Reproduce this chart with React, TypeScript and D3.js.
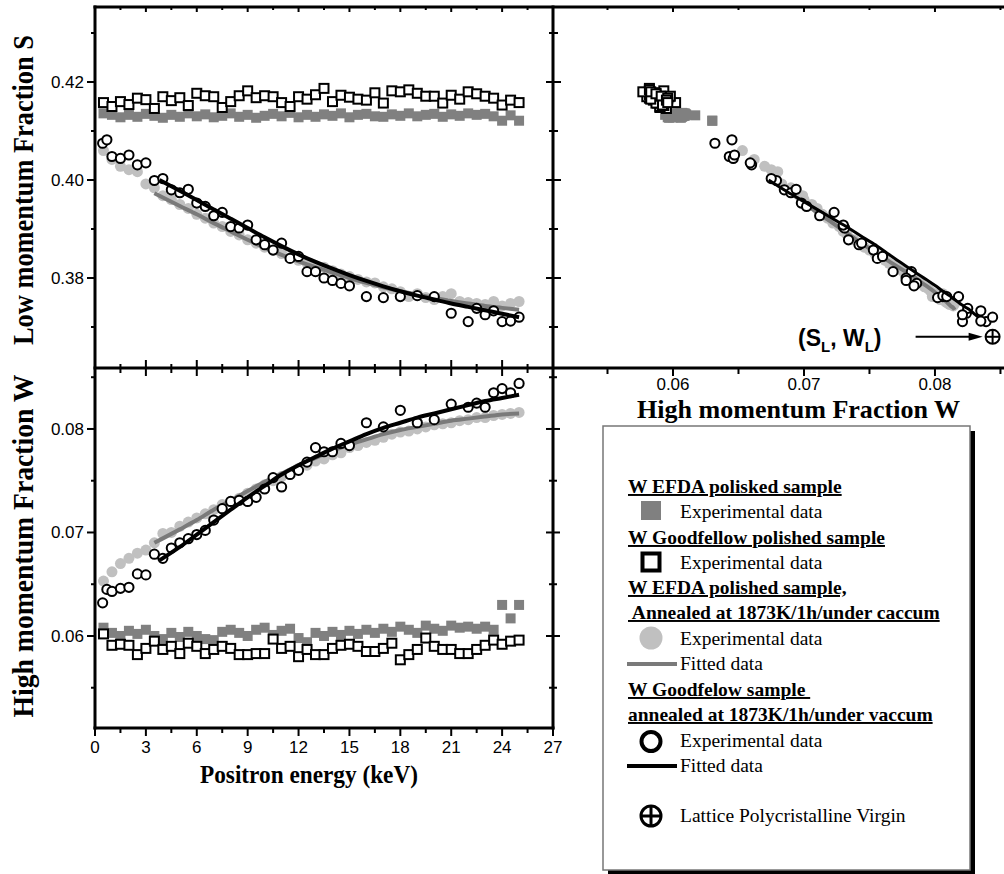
import React from "react";
import * as d3 from "d3";

// ---------- data ----------
const E_GRID = [0.5, 1.0, 1.5, 2.0, 2.5, 3.0, 3.5, 4.0, 4.5, 5.0, 5.5, 6.0, 6.5, 7.0, 7.5, 8.0, 8.5, 9.0, 9.5, 10.0, 10.5, 11.0, 11.5, 12.0, 12.5, 13.0, 13.5, 14.0, 14.5, 15.0, 15.5, 16.0, 16.5, 17.0, 17.5, 18.0, 18.5, 19.0, 19.5, 20.0, 20.5, 21.0, 21.5, 22.0, 22.5, 23.0, 23.5, 24.0, 24.5, 25.0];

// W EFDA polished sample (gray filled squares)
const EFDA_POL_S = [0.4136, 0.4133, 0.4128, 0.4133, 0.4129, 0.4135, 0.4131, 0.4127, 0.4133, 0.4129, 0.4136, 0.4130, 0.4134, 0.4128, 0.4131, 0.4136, 0.4129, 0.4133, 0.4127, 0.4131, 0.4135, 0.4130, 0.4137, 0.4128, 0.4133, 0.4129, 0.4134, 0.4131, 0.4136, 0.4128, 0.4133, 0.4135, 0.4130, 0.4129, 0.4134, 0.4131, 0.4136, 0.4130, 0.4133, 0.4135, 0.4129, 0.4134, 0.4131, 0.4136, 0.4133, 0.4135, 0.4130, 0.4121, 0.4132, 0.4121];
const EFDA_POL_W = [0.0608, 0.0603, 0.0600, 0.0605, 0.0602, 0.0606, 0.0600, 0.0597, 0.0603, 0.0599, 0.0604, 0.0600, 0.0597, 0.0596, 0.0604, 0.0606, 0.0603, 0.0600, 0.0606, 0.0608, 0.0601, 0.0605, 0.0607, 0.0598, 0.0594, 0.0603, 0.0600, 0.0604, 0.0601, 0.0605, 0.0602, 0.0606, 0.0603, 0.0607, 0.0604, 0.0609, 0.0606, 0.0603, 0.0610, 0.0607, 0.0605, 0.0610, 0.0608, 0.0609, 0.0607, 0.0609, 0.0606, 0.0630, 0.0617, 0.0630];

// W Goodfellow polished sample (open squares)
const GF_POL_S = [0.4158, 0.4150, 0.4160, 0.4154, 0.4167, 0.4164, 0.4146, 0.4170, 0.4162, 0.4168, 0.4152, 0.4177, 0.4172, 0.4170, 0.4148, 0.4160, 0.4172, 0.4182, 0.4168, 0.4172, 0.4170, 0.4158, 0.4150, 0.4170, 0.4165, 0.4174, 0.4187, 0.4160, 0.4173, 0.4169, 0.4165, 0.4163, 0.4178, 0.4157, 0.4182, 0.4180, 0.4184, 0.4177, 0.4171, 0.4171, 0.4157, 0.4173, 0.4165, 0.4180, 0.4176, 0.4171, 0.4167, 0.4153, 0.4163, 0.4158];
const GF_POL_W = [0.0602, 0.0591, 0.0592, 0.0591, 0.0582, 0.0588, 0.0595, 0.0587, 0.0590, 0.0583, 0.0593, 0.0590, 0.0583, 0.0587, 0.0590, 0.0588, 0.0582, 0.0582, 0.0583, 0.0583, 0.0597, 0.0588, 0.0590, 0.0580, 0.0587, 0.0582, 0.0582, 0.0588, 0.0591, 0.0592, 0.0590, 0.0585, 0.0585, 0.0588, 0.0593, 0.0577, 0.0582, 0.0587, 0.0598, 0.0590, 0.0587, 0.0587, 0.0583, 0.0583, 0.0587, 0.0591, 0.0596, 0.0592, 0.0595, 0.0596];

// W EFDA polished sample, annealed (light gray circles)
const EFDA_ANN_S = [0.4060, 0.4042, 0.4028, 0.4021, 0.4017, 0.3992, 0.3984, 0.3968, 0.3960, 0.3950, 0.3942, 0.3930, 0.3922, 0.3912, 0.3905, 0.3895, 0.3888, 0.3878, 0.3871, 0.3863, 0.3857, 0.3850, 0.3842, 0.3836, 0.3830, 0.3825, 0.3822, 0.3815, 0.3808, 0.3803, 0.3797, 0.3792, 0.3790, 0.3782, 0.3778, 0.3772, 0.3762, 0.3768, 0.3760, 0.3756, 0.3762, 0.3768, 0.3752, 0.3750, 0.3748, 0.3746, 0.3752, 0.3743, 0.3748, 0.3752];
const EFDA_ANN_W = [0.0653, 0.0662, 0.0670, 0.0675, 0.0680, 0.0683, 0.0690, 0.0699, 0.0700, 0.0706, 0.0710, 0.0714, 0.0718, 0.0722, 0.0727, 0.0730, 0.0733, 0.0738, 0.0742, 0.0746, 0.0750, 0.0754, 0.0757, 0.0762, 0.0765, 0.0769, 0.0771, 0.0775, 0.0777, 0.0782, 0.0784, 0.0787, 0.0789, 0.0792, 0.0795, 0.0797, 0.0798, 0.0800, 0.0802, 0.0804, 0.0805, 0.0806, 0.0808, 0.0809, 0.0811, 0.0811, 0.0813, 0.0814, 0.0815, 0.0816];

// W Goodfellow sample, annealed (open circles)
const GF_ANN_E = [0.45, 0.7, 1.0, 1.5, 2.0, 2.5, 3.0, 3.5, 4.0, 4.5, 5.0, 5.5, 6.0, 6.5, 7.0, 7.5, 8.0, 8.5, 9.0, 9.5, 10.0, 10.5, 11.0, 11.5, 12.0, 12.5, 13.0, 13.5, 14.0, 14.5, 15.0, 16.0, 17.0, 18.0, 19.0, 20.0, 21.0, 22.0, 22.5, 23.0, 23.5, 24.0, 24.5, 25.0];
const GF_ANN_S = [0.4075, 0.4082, 0.4048, 0.4044, 0.4051, 0.4031, 0.4035, 0.3999, 0.4003, 0.3980, 0.3974, 0.3981, 0.3953, 0.3946, 0.3927, 0.3934, 0.3905, 0.3902, 0.3908, 0.3878, 0.3868, 0.3857, 0.3871, 0.3840, 0.3844, 0.3813, 0.3813, 0.3800, 0.3795, 0.3789, 0.3784, 0.3762, 0.3760, 0.3762, 0.3764, 0.3762, 0.3728, 0.3711, 0.3738, 0.3725, 0.3733, 0.3711, 0.3712, 0.3720];
const GF_ANN_W = [0.0632, 0.0645, 0.0643, 0.0646, 0.0647, 0.0660, 0.0659, 0.0679, 0.0675, 0.0685, 0.0690, 0.0694, 0.0698, 0.0702, 0.0712, 0.0723, 0.0730, 0.0731, 0.0730, 0.0734, 0.0742, 0.0753, 0.0744, 0.0756, 0.0760, 0.0768, 0.0782, 0.0778, 0.0778, 0.0786, 0.0784, 0.0806, 0.0802, 0.0818, 0.0806, 0.0809, 0.0824, 0.0821, 0.0825, 0.0821, 0.0835, 0.0839, 0.0835, 0.0844];

// fitted curves
const FIT_GRAY_E = [3.5, 5, 6, 7, 8, 9, 10, 11, 12, 13, 14, 15, 16, 17, 18, 19, 20, 21, 22, 23, 24, 25];
const FIT_GRAY_S = [0.3973, 0.3947, 0.3930, 0.3912, 0.3895, 0.3878, 0.3862, 0.3847, 0.3834, 0.3822, 0.3811, 0.3800, 0.3790, 0.3781, 0.3773, 0.3766, 0.3759, 0.3753, 0.3748, 0.3743, 0.3739, 0.3735];
const FIT_GRAY_W = [0.0690, 0.0703, 0.0712, 0.0722, 0.0731, 0.0740, 0.0749, 0.0757, 0.0765, 0.0772, 0.0779, 0.0785, 0.0790, 0.0795, 0.0799, 0.0802, 0.0805, 0.0808, 0.0810, 0.0812, 0.0814, 0.0815];
const FIT_BLACK_E = [3.8, 5, 6, 7, 8, 9, 10, 11, 12, 13, 14, 15, 16, 17, 18, 19, 20, 21, 22, 23, 24, 25];
const FIT_BLACK_S = [0.4000, 0.3978, 0.3959, 0.3940, 0.3921, 0.3902, 0.3883, 0.3865, 0.3848, 0.3833, 0.3819, 0.3806, 0.3794, 0.3783, 0.3773, 0.3764, 0.3756, 0.3748, 0.3741, 0.3734, 0.3727, 0.3720];
const FIT_BLACK_W = [0.0673, 0.0686, 0.0698, 0.0710, 0.0722, 0.0734, 0.0745, 0.0756, 0.0765, 0.0773, 0.0781, 0.0788, 0.0795, 0.0801, 0.0806, 0.0811, 0.0815, 0.0819, 0.0823, 0.0827, 0.0830, 0.0833];

// lattice point (S_L, W_L)
const LATTICE_W = [0.0844];
const LATTICE_S = [0.3680];

// ticks
const E_MAJOR = [0, 3, 6, 9, 12, 15, 18, 21, 24, 27];
const E_MINOR = [1.5, 4.5, 7.5, 10.5, 13.5, 16.5, 19.5, 22.5, 25.5];
const S_MAJOR = [0.38, 0.40, 0.42];
const S_MINOR = [0.37, 0.39, 0.41, 0.43];
const W_MAJOR = [0.06, 0.07, 0.08];
const W_MINOR_LEFT = [0.055, 0.065, 0.075, 0.085];
const W_MINOR_RIGHT = [0.055, 0.065, 0.075, 0.085];

const SANS = "'Liberation Sans', Arial, sans-serif";
const SERIF = "'Liberation Serif', 'Times New Roman', serif";
const GRAY_SQ = "#808080";
const LIGHT = "#c0c0c0";
const FIT_GRAY = "#7a7a7a";

export default function App() {
  const xE = d3.scaleLinear().domain([0, 27]).range([95, 553]);
  const yS = d3.scaleLinear().domain([0.36163, 0.43531]).range([368, 7]);
  const yW = d3.scaleLinear().domain([0.05111, 0.08589]).range([728, 368]);
  const xW = d3.scaleLinear().domain([0.05084, 0.08527]).range([553, 1004]);

  const lineE = d3.line<[number, number]>().x((d) => d[0]).y((d) => d[1]).curve(d3.curveMonotoneX);
  const lineP = d3.line<[number, number]>().x((d) => d[0]).y((d) => d[1]).curve(d3.curveCatmullRom);

  const grayFitES = lineE(FIT_GRAY_E.map((e, i) => [xE(e), yS(FIT_GRAY_S[i])] as [number, number]));
  const blackFitES = lineE(FIT_BLACK_E.map((e, i) => [xE(e), yS(FIT_BLACK_S[i])] as [number, number]));
  const grayFitEW = lineE(FIT_GRAY_E.map((e, i) => [xE(e), yW(FIT_GRAY_W[i])] as [number, number]));
  const blackFitEW = lineE(FIT_BLACK_E.map((e, i) => [xE(e), yW(FIT_BLACK_W[i])] as [number, number]));
  const grayFitWS = lineP(FIT_GRAY_W.map((w, i) => [xW(w), yS(FIT_GRAY_S[i])] as [number, number]));
  const blackFitWS = lineP(FIT_BLACK_W.map((w, i) => [xW(w), yS(FIT_BLACK_S[i])] as [number, number]));

  const sq = 10;
  const osq = 9;
  const rL = 5.5;
  const rO = 4.6;

  const graySquares = (xs: number[], ys: number[]) =>
    xs.map((x, i) => <rect key={"g" + i} x={x - sq / 2} y={ys[i] - sq / 2} width={sq} height={sq} fill={GRAY_SQ} />);
  const openSquares = (xs: number[], ys: number[]) =>
    xs.map((x, i) => (
      <rect key={"o" + i} x={x - osq / 2} y={ys[i] - osq / 2} width={osq} height={osq} fill="#fff" stroke="#000" strokeWidth={2} />
    ));
  const lightCircles = (xs: number[], ys: number[]) =>
    xs.map((x, i) => <circle key={"l" + i} cx={x} cy={ys[i]} r={rL} fill={LIGHT} />);
  const openCircles = (xs: number[], ys: number[]) =>
    xs.map((x, i) => <circle key={"c" + i} cx={x} cy={ys[i]} r={rO} fill="#fff" stroke="#000" strokeWidth={2} />);

  const tickW = 2;

  // Legend geometry
  const LX = 603, LY = 426, LW = 367, LH = 444;
  const symX = 651;
  const txtX = 680;
  const hdrX = 628;
  const lfs = 19.5;

  return (
    <svg width={1004} height={874} style={{ position: "absolute", left: 0, top: 0, background: "#fff" }}>
      <rect x={0} y={0} width={1004} height={874} fill="#fff" />

      {/* ---------- top-left: S vs E ---------- */}
      <g>
        {graySquares(E_GRID.map(xE), EFDA_POL_S.map(yS))}
        {openSquares(E_GRID.map(xE), GF_POL_S.map(yS))}
        {lightCircles(E_GRID.map(xE), EFDA_ANN_S.map(yS))}
        <path d={grayFitES || ""} fill="none" stroke={FIT_GRAY} strokeWidth={4} />
        {openCircles(GF_ANN_E.map(xE), GF_ANN_S.map(yS))}
        <path d={blackFitES || ""} fill="none" stroke="#000" strokeWidth={4} />
      </g>

      {/* ---------- bottom-left: W vs E ---------- */}
      <g>
        {graySquares(E_GRID.map(xE), EFDA_POL_W.map(yW))}
        {openSquares(E_GRID.map(xE), GF_POL_W.map(yW))}
        {lightCircles(E_GRID.map(xE), EFDA_ANN_W.map(yW))}
        <path d={grayFitEW || ""} fill="none" stroke={FIT_GRAY} strokeWidth={4} />
        {openCircles(GF_ANN_E.map(xE), GF_ANN_W.map(yW))}
        <path d={blackFitEW || ""} fill="none" stroke="#000" strokeWidth={4} />
      </g>

      {/* ---------- top-right: S vs W ---------- */}
      <g>
        {graySquares(EFDA_POL_W.map(xW), EFDA_POL_S.map(yS))}
        {openSquares(GF_POL_W.map(xW), GF_POL_S.map(yS))}
        {lightCircles(EFDA_ANN_W.map(xW), EFDA_ANN_S.map(yS))}
        <path d={grayFitWS || ""} fill="none" stroke={FIT_GRAY} strokeWidth={4} />
        {openCircles(GF_ANN_W.map(xW), GF_ANN_S.map(yS))}
        <path d={blackFitWS || ""} fill="none" stroke="#000" strokeWidth={3} />
        {LATTICE_W.map((w, i) => (
          <g key={"lat" + i}>
            <circle cx={xW(w)} cy={yS(LATTICE_S[i])} r={7} fill="#fff" stroke="#000" strokeWidth={2} />
            <line x1={xW(w) - 7} x2={xW(w) + 7} y1={yS(LATTICE_S[i])} y2={yS(LATTICE_S[i])} stroke="#000" strokeWidth={2} />
            <line x1={xW(w)} x2={xW(w)} y1={yS(LATTICE_S[i]) - 7} y2={yS(LATTICE_S[i]) + 7} stroke="#000" strokeWidth={2} />
            <line x1={xW(w) - 77} x2={xW(w) - 22} y1={yS(LATTICE_S[i])} y2={yS(LATTICE_S[i])} stroke="#000" strokeWidth={2} />
            <path
              d={`M${xW(w) - 10},${yS(LATTICE_S[i])} L${xW(w) - 24},${yS(LATTICE_S[i]) - 4} L${xW(w) - 24},${yS(LATTICE_S[i]) + 4} Z`}
              fill="#000"
            />
            <text x={798} y={yS(LATTICE_S[i]) + 9} fontFamily={SANS} fontWeight="bold" fontSize={23}>
              (S
              <tspan fontSize={15} dy={6}>L</tspan>
              <tspan dy={-6}>, W</tspan>
              <tspan fontSize={15} dy={6}>L</tspan>
              <tspan dy={-6}>)</tspan>
            </text>
          </g>
        ))}
      </g>

      {/* ---------- frames ---------- */}
      <g stroke="#000" strokeWidth={3} fill="none">
        <line x1={95} x2={95} y1={5.5} y2={729.5} />
        <line x1={553} x2={553} y1={5.5} y2={729.5} />
        <line x1={93.5} x2={1004} y1={7} y2={7} />
        <line x1={93.5} x2={1004} y1={368} y2={368} />
        <line x1={93.5} x2={554.5} y1={728} y2={728} />
      </g>

      {/* ---------- ticks ---------- */}
      <g stroke="#000" strokeWidth={tickW}>
        {S_MAJOR.map((v) => <line key={"lsM" + v} x1={87} x2={95} y1={yS(v)} y2={yS(v)} />)}
        {S_MINOR.map((v) => <line key={"lsm" + v} x1={91} x2={95} y1={yS(v)} y2={yS(v)} />)}
        {W_MAJOR.map((v) => <line key={"lwM" + v} x1={87} x2={95} y1={yW(v)} y2={yW(v)} />)}
        {W_MINOR_LEFT.map((v) => <line key={"lwm" + v} x1={91} x2={95} y1={yW(v)} y2={yW(v)} />)}
        {S_MAJOR.map((v) => <line key={"rsM" + v} x1={546} x2={561} y1={yS(v)} y2={yS(v)} />)}
        {S_MINOR.map((v) => <line key={"rsm" + v} x1={549} x2={558} y1={yS(v)} y2={yS(v)} />)}
        {W_MAJOR.map((v) => <line key={"rwM" + v} x1={546} x2={560} y1={yW(v)} y2={yW(v)} />)}
        {W_MINOR_LEFT.map((v) => <line key={"rwm" + v} x1={549} x2={557} y1={yW(v)} y2={yW(v)} />)}
        {E_MAJOR.filter((v) => v > 0 && v < 27).map((v) => <line key={"tM" + v} x1={xE(v)} x2={xE(v)} y1={7} y2={12} />)}
        {E_MINOR.map((v) => <line key={"tm" + v} x1={xE(v)} x2={xE(v)} y1={7} y2={10} />)}
        {E_MAJOR.filter((v) => v > 0 && v < 27).map((v) => <line key={"mM" + v} x1={xE(v)} x2={xE(v)} y1={360} y2={376} />)}
        {E_MINOR.map((v) => <line key={"mm" + v} x1={xE(v)} x2={xE(v)} y1={364} y2={373} />)}
        {E_MAJOR.map((v) => <line key={"bM" + v} x1={xE(v)} x2={xE(v)} y1={728} y2={736} />)}
        {E_MINOR.map((v) => <line key={"bm" + v} x1={xE(v)} x2={xE(v)} y1={728} y2={733} />)}
        {W_MAJOR.map((v) => <line key={"wM" + v} x1={xW(v)} x2={xW(v)} y1={368} y2={376} />)}
        {W_MINOR_RIGHT.map((v) => <line key={"wm" + v} x1={xW(v)} x2={xW(v)} y1={368} y2={374} />)}
        {W_MAJOR.map((v) => <line key={"wtM" + v} x1={xW(v)} x2={xW(v)} y1={7} y2={12} />)}
        {W_MINOR_RIGHT.map((v) => <line key={"wtm" + v} x1={xW(v)} x2={xW(v)} y1={7} y2={10} />)}
      </g>

      {/* ---------- tick labels ---------- */}
      <g fontFamily={SANS} fontSize={17} fill="#000">
        {S_MAJOR.map((v) => (
          <text key={"sl" + v} x={84} y={yS(v) + 6} textAnchor="end">{v.toFixed(2)}</text>
        ))}
        {W_MAJOR.map((v) => (
          <text key={"wl" + v} x={84} y={yW(v) + 6} textAnchor="end">{v.toFixed(2)}</text>
        ))}
        {E_MAJOR.map((v) => (
          <text key={"el" + v} x={xE(v)} y={753} textAnchor="middle">{v}</text>
        ))}
        {W_MAJOR.map((v) => (
          <text key={"wr" + v} x={xW(v)} y={390} textAnchor="middle">{v.toFixed(2)}</text>
        ))}
      </g>

      {/* ---------- axis titles ---------- */}
      <g fontFamily={SERIF} fontWeight="bold" fill="#000">
        <text transform="translate(33,190) rotate(-90)" textAnchor="middle" fontSize={29} textLength={310} lengthAdjust="spacingAndGlyphs">
          Low momentum Fraction S
        </text>
        <text transform="translate(33,546) rotate(-90)" textAnchor="middle" fontSize={29} textLength={343} lengthAdjust="spacingAndGlyphs">
          High momentum Fraction W
        </text>
        <text x={309} y={783} textAnchor="middle" fontSize={26} textLength={218} lengthAdjust="spacingAndGlyphs">
          Positron energy (keV)
        </text>
        <text x={798.5} y={418} textAnchor="middle" fontSize={26} textLength={323} lengthAdjust="spacingAndGlyphs">
          High momentum Fraction W
        </text>
      </g>

      {/* ---------- legend ---------- */}
      <g>
        <rect x={LX + 5} y={LY + 5} width={LW} height={LH} fill="#000" />
        <rect x={LX} y={LY} width={LW} height={LH} fill="#fff" stroke="#777" strokeWidth={1.5} />
        <g fontFamily={SERIF} fontSize={lfs} fill="#000" style={{ whiteSpace: "pre" }}>
          <text x={hdrX} y={493} fontWeight="bold" style={{ textDecoration: "underline" }}>W EFDA polisked sample</text>
          <rect x={symX - 10} y={511 - 10} width={20} height={19} fill={GRAY_SQ} />
          <text x={txtX} y={518}>Experimental data</text>

          <text x={hdrX} y={544} fontWeight="bold" style={{ textDecoration: "underline" }}>W Goodfellow polished sample</text>
          <rect x={symX - 8.5} y={562 - 8.5} width={17} height={17} fill="#fff" stroke="#000" strokeWidth={4} />
          <text x={txtX} y={569}>Experimental data</text>

          <text x={hdrX} y={594} fontWeight="bold" style={{ textDecoration: "underline" }}>W EFDA polished sample,</text>
          <text x={hdrX} y={619} fontWeight="bold" style={{ textDecoration: "underline", whiteSpace: "pre" }}>{" Annealed at 1873K/1h/under caccum"}</text>
          <circle cx={symX} cy={638} r={11.5} fill={LIGHT} />
          <text x={txtX} y={645}>Experimental data</text>
          <line x1={627} x2={677} y1={664} y2={664} stroke={FIT_GRAY} strokeWidth={4} />
          <text x={txtX} y={670}>Fitted data</text>

          <text x={hdrX} y={696} fontWeight="bold" style={{ textDecoration: "underline", whiteSpace: "pre" }}>{"W Goodfelow sample "}</text>
          <text x={hdrX} y={721} fontWeight="bold" style={{ textDecoration: "underline" }}>annealed at 1873K/1h/under vaccum</text>
          <circle cx={symX} cy={741.5} r={9.5} fill="#fff" stroke="#000" strokeWidth={4} />
          <text x={txtX} y={747}>Experimental data</text>
          <line x1={627} x2={677} y1={766} y2={766} stroke="#000" strokeWidth={4} />
          <text x={txtX} y={772}>Fitted data</text>

          <circle cx={symX} cy={816} r={10} fill="#fff" stroke="#000" strokeWidth={3} />
          <line x1={symX - 10} x2={symX + 10} y1={816} y2={816} stroke="#000" strokeWidth={3} />
          <line x1={symX} x2={symX} y1={806} y2={826} stroke="#000" strokeWidth={3} />
          <text x={txtX} y={822}>Lattice Polycristalline Virgin</text>
        </g>
      </g>
    </svg>
  );
}
